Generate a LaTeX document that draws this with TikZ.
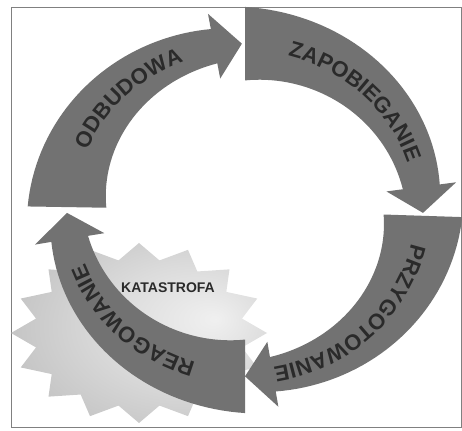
\documentclass[tikz,border=0pt]{standalone}
\usepackage{fontspec}
\setsansfont{Liberation Sans}
\usetikzlibrary{decorations.text}
\definecolor{CycleGray}{HTML}{727272}
\definecolor{CycleText}{HTML}{2A2A2A}
\definecolor{FrameGray}{HTML}{808080}
\pgfdeclareradialshading{starglow}{\pgfpoint{15bp}{4bp}}{color(0bp)=(gray!12); color(16bp)=(gray!28); color(50bp)=(gray!68)}
\newcommand\arcfont{\fontsize{22}{22}\selectfont\sffamily\bfseries}

\begin{document}
\begin{tikzpicture}[x=1pt,y=1pt]
  \tikzset{cyclearrow/.style={fill=CycleGray},
    arclabel/.style={decorate,decoration={text along path,text align=center,text color=CycleText}}}
  \useasboundingbox (0,0) rectangle (462,430);
  \draw[FrameGray,line width=0.8pt] (11,3) rectangle (461,423);
  % burst behind the cycle
  \shade[shading=starglow,shift={(139,97)}] (0:128 and 90)
    \foreach \a in {0,22.5,...,337.5}{ -- (\a:128 and 90) -- (\a+11.25:105 and 74)} -- cycle;
  % four tapered arrows of the cycle
  \foreach \tail/\sweep in {179/88,90/91,-2/88,-90/89}{
    \pgfmathsetmacro\base{\tail-\sweep+9}
    \pgfmathsetmacro\tip{\tail-\sweep}
    \fill[cyclearrow] plot[domain=\tail:\base,samples=40,variable=\t]
        ({245+1.035*(210-20*(\tail-(\t))/(\tail-\base))*cos(\t)},{220+0.967*(210-20*(\tail-(\t))/(\tail-\base))*sin(\t)})
      -- ({245+1.035*206*cos(\base)},{220+0.967*206*sin(\base)})
      -- ({245+1.035*172*cos(\tip)},{220+0.967*172*sin(\tip)})
      -- ({245+1.035*138*cos(\base)},{220+0.967*138*sin(\base)})
      -- plot[domain=\base:\tail,samples=40,variable=\t]
        ({245+1.035*(134+20*(\tail-(\t))/(\tail-\base))*cos(\t)},{220+0.967*(134+20*(\tail-(\t))/(\tail-\base))*sin(\t)})
      -- cycle;
  }
  % labels along the arrows
  \path[arclabel,decoration={text={|\arcfont|ODBUDOWA}}] (245,220) ++(175:170 and 159)
    arc[start angle=175,end angle=95,x radius=170,y radius=159];
  \path[arclabel,decoration={text={|\arcfont|ZAPOBIEGANIE}}] (245,220) ++(86:170 and 159)
    arc[start angle=86,end angle=6,x radius=170,y radius=159];
  \path[arclabel,decoration={text={|\arcfont|PRZYGOTOWANIE}}] (245,220) ++(-6:170 and 159)
    arc[start angle=-6,end angle=-86,x radius=170,y radius=159];
  \path[arclabel,decoration={text={|\arcfont|REAGOWANIE}}] (245,220) ++(-94:170 and 159)
    arc[start angle=-94,end angle=-174,x radius=170,y radius=159];
  \node[font=\sffamily\bfseries\fontsize{14}{14}\selectfont,text=CycleText] (katastrofa) at (168,142) {KATASTROFA};
\end{tikzpicture}
\end{document}
